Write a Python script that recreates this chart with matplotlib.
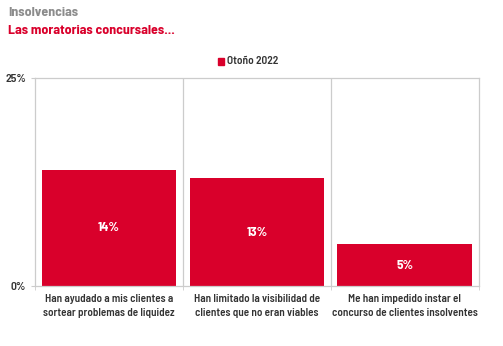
import matplotlib
matplotlib.use("Agg")
import matplotlib.pyplot as plt
from matplotlib.patches import Rectangle

categories = [
    "Han ayudado a mis clientes a\nsortear problemas de liquidez",
    "Han limitado la visibilidad de\nclientes que no eran viables",
    "Me han impedido instar el\nconcurso de clientes insolventes",
]
values = [14, 13, 5]
series_name = "Otoño 2022"
y_ticks = [0, 25]
y_tick_labels = ["0%", "25%"]

RED = "#D9002B"
GRID = "#CCCCCC"
TEXT = "#333333"

plt.rcParams["font.family"] = ["Barlow Semi Condensed", "DejaVu Sans"]

fig = plt.figure(figsize=(5.03, 3.46), dpi=100)
ax = fig.add_axes([0.0696, 0.1734, 0.882, 0.6003])

x = list(range(len(values)))
ax.bar(x, values, width=0.91, color=RED, edgecolor="none", zorder=2)
for xi, v in zip(x, values):
    ax.text(xi, v / 2, f"{v}%", ha="center", va="center", color="white",
            fontsize=9.5, fontweight="bold", zorder=3)

ax.set_xlim(-0.5, len(values) - 0.5)
ax.set_ylim(0, 25)

# vertical separators between categories
for b in [i + 0.5 for i in range(len(values) - 1)]:
    ax.axvline(b, color=GRID, lw=0.9, zorder=1)

for side in ["top", "right", "left", "bottom"]:
    ax.spines[side].set_color(GRID)
    ax.spines[side].set_linewidth(0.9)

ax.set_yticks(y_ticks)
ax.set_yticklabels(y_tick_labels, fontsize=8.5, fontweight=600, color=TEXT)
ax.tick_params(axis="y", length=3, color=GRID, pad=3.5)

ax.set_xticks([i - 0.5 for i in range(len(values) + 1)], minor=True)
ax.set_xticks(x)
ax.set_xticklabels(categories, fontsize=8, fontweight=600, color=TEXT,
                   linespacing=1.5)
ax.tick_params(axis="x", which="major", length=0, pad=6)
ax.tick_params(axis="x", which="minor", length=3, color=GRID)

# titles
fig.text(8 / 503, 1 - 13 / 346, "Insolvencias", fontsize=10, fontweight="bold",
         color="#8C8C8C", ha="left", va="center")
fig.text(8 / 503, 1 - 30 / 346, "Las moratorias concursales...", fontsize=10,
         fontweight="bold", color=RED, ha="left", va="center")

# legend
fig.patches.append(Rectangle((218 / 503, 1 - 64.5 / 346), 6 / 503, 6 / 346,
                             transform=fig.transFigure, color=RED))
fig.text(227 / 503, 1 - 61.5 / 346, series_name, fontsize=8.2, fontweight=600,
         color=TEXT, ha="left", va="center")

fig.savefig("out.png", dpi=100)
